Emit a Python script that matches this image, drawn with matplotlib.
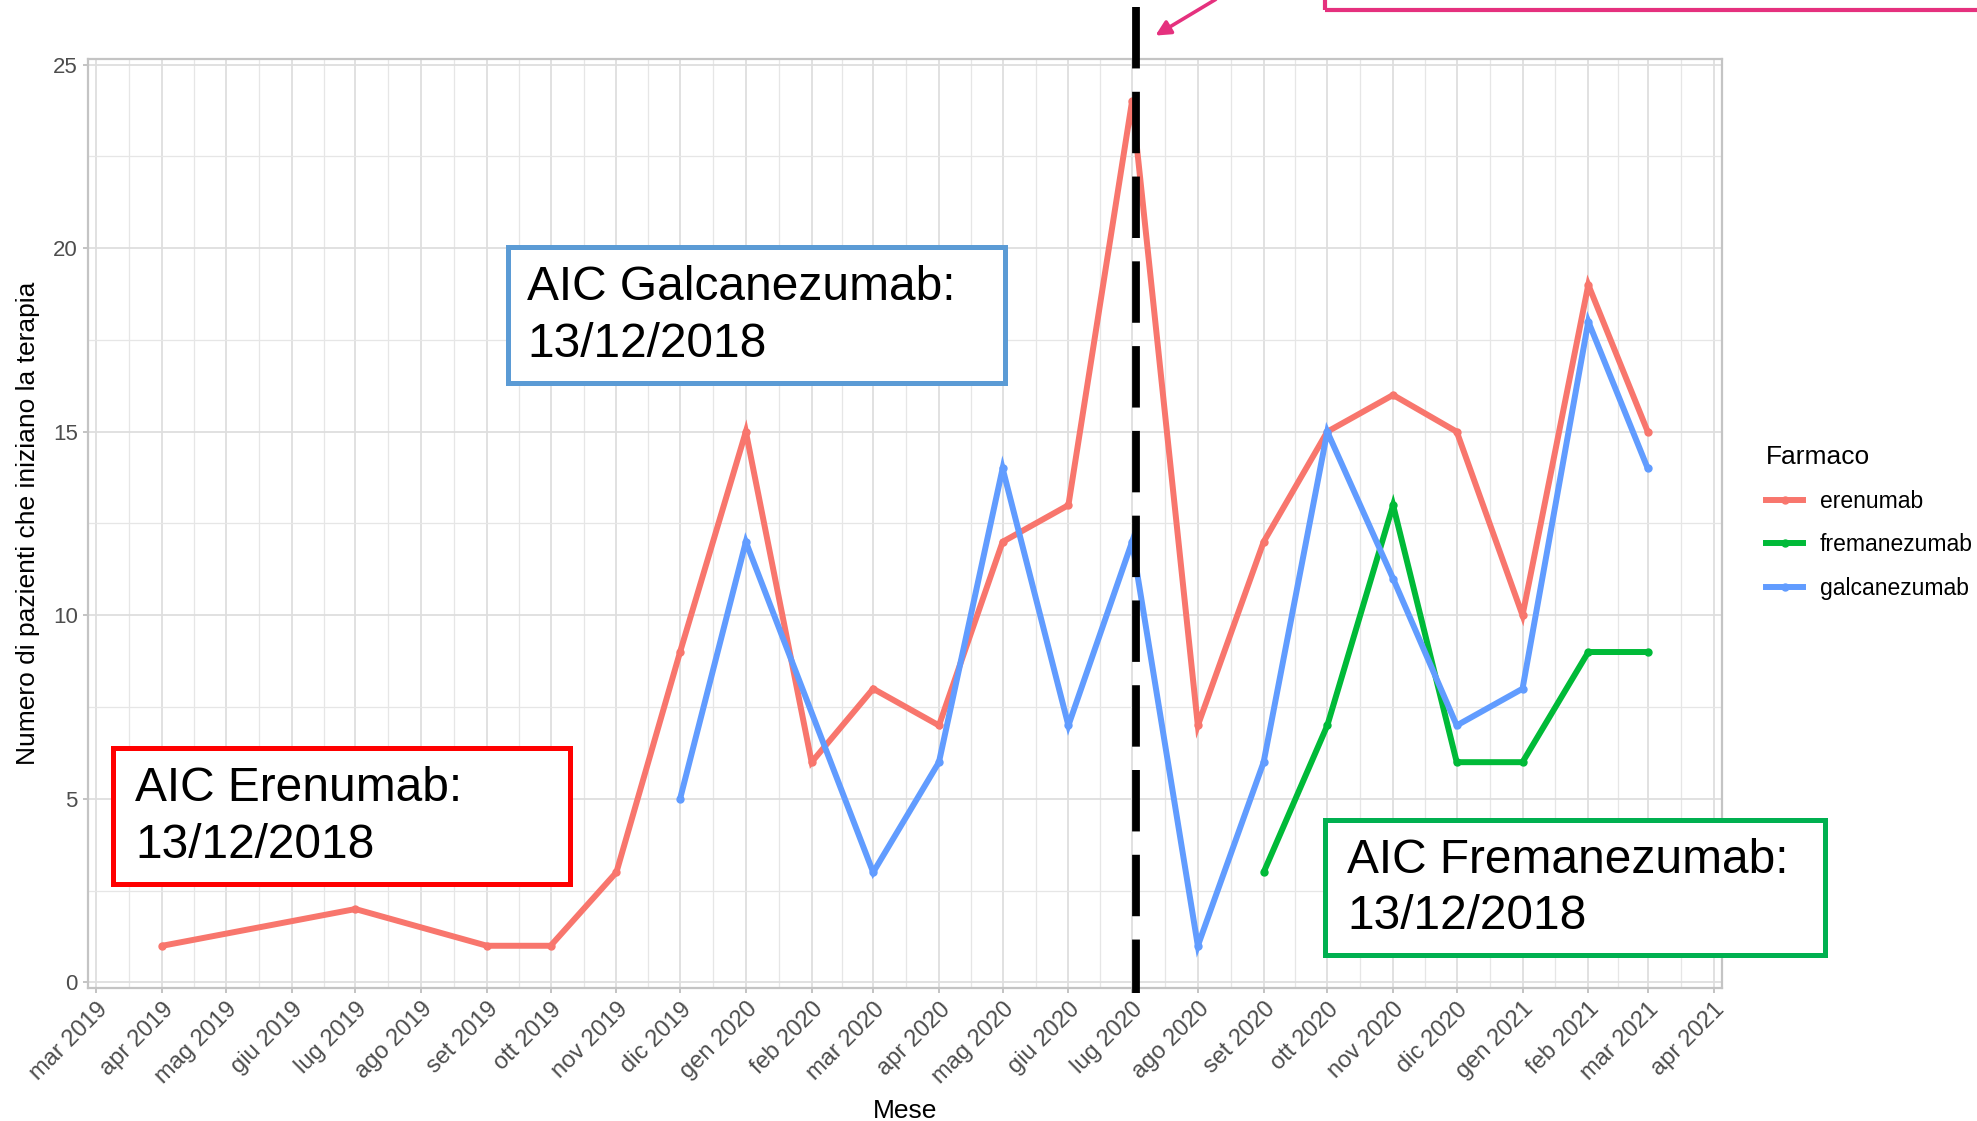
import matplotlib
matplotlib.use("Agg")
import matplotlib.pyplot as plt
import matplotlib.dates as mdates
import matplotlib.transforms as mtransforms
from matplotlib.lines import Line2D
from matplotlib.patches import Rectangle
import pandas as pd
import numpy as np

plt.rcParams['font.family'] = ['Liberation Sans', 'DejaVu Sans']

# ---------------- data ----------------
erenumab_dates = ["2019-04-01", "2019-07-01", "2019-09-01", "2019-10-01", "2019-11-01",
                  "2019-12-01", "2020-01-01", "2020-02-01", "2020-03-01", "2020-04-01",
                  "2020-05-01", "2020-06-01", "2020-07-01", "2020-08-01", "2020-09-01",
                  "2020-10-01", "2020-11-01", "2020-12-01", "2021-01-01", "2021-02-01",
                  "2021-03-01"]
erenumab_values = [1, 2, 1, 1, 3, 9, 15, 6, 8, 7, 12, 13, 24, 7, 12, 15, 16, 15, 10, 19, 15]

fremanezumab_dates = ["2020-09-01", "2020-10-01", "2020-11-01", "2020-12-01",
                      "2021-01-01", "2021-02-01", "2021-03-01"]
fremanezumab_values = [3, 7, 13, 6, 6, 9, 9]

galcanezumab_dates = ["2019-12-01", "2020-01-01", "2020-03-01", "2020-04-01", "2020-05-01",
                      "2020-06-01", "2020-07-01", "2020-08-01", "2020-09-01", "2020-10-01",
                      "2020-11-01", "2020-12-01", "2021-01-01", "2021-02-01", "2021-03-01"]
galcanezumab_values = [5, 12, 3, 6, 14, 7, 12, 1, 6, 15, 11, 7, 8, 18, 14]

series_names = ["erenumab", "fremanezumab", "galcanezumab"]
series_colors = ["#F8766D", "#00BA38", "#619CFF"]

tick_dates = ["2019-03-01", "2019-04-01", "2019-05-01", "2019-06-01", "2019-07-01",
              "2019-08-01", "2019-09-01", "2019-10-01", "2019-11-01", "2019-12-01",
              "2020-01-01", "2020-02-01", "2020-03-01", "2020-04-01", "2020-05-01",
              "2020-06-01", "2020-07-01", "2020-08-01", "2020-09-01", "2020-10-01",
              "2020-11-01", "2020-12-01", "2021-01-01", "2021-02-01", "2021-03-01",
              "2021-04-01"]
tick_labels = ["mar 2019", "apr 2019", "mag 2019", "giu 2019", "lug 2019", "ago 2019",
               "set 2019", "ott 2019", "nov 2019", "dic 2019", "gen 2020", "feb 2020",
               "mar 2020", "apr 2020", "mag 2020", "giu 2020", "lug 2020", "ago 2020",
               "set 2020", "ott 2020", "nov 2020", "dic 2020", "gen 2021", "feb 2021",
               "mar 2021", "apr 2021"]
y_ticks = [0, 5, 10, 15, 20, 25]

marker_date = "2020-07-03"   # vertical dashed reference line

annotations = [
    ("AIC Erenumab:\n13/12/2018", "#FF0000"),
    ("AIC Galcanezumab:\n13/12/2018", "#5B9BD5"),
    ("AIC Fremanezumab:\n13/12/2018", "#00B050"),
]

# ---------------- figure ----------------
W, H = 1977, 1121
fig = plt.figure(figsize=(W / 100, H / 100), dpi=100)

def fx(px):
    return px / W

def fy(py):
    return 1 - py / H

ax_l, ax_r, ax_t, ax_b = 88, 1722, 59, 988
ax = fig.add_axes([fx(ax_l), fy(ax_b), fx(ax_r - ax_l), (ax_b - ax_t) / H])

all_series = [
    (erenumab_dates, erenumab_values),
    (fremanezumab_dates, fremanezumab_values),
    (galcanezumab_dates, galcanezumab_values),
]

lw = 4.3
ms = 5.0
handles = []
for (d, v), name, col in zip(all_series, series_names, series_colors):
    x = pd.to_datetime(d)
    ax.plot(x, v, color=col, lw=lw, marker='o', ms=ms, solid_capstyle='butt',
            solid_joinstyle='miter', zorder=3)
    handles.append(Line2D([], [], color=col, lw=lw, marker='o', ms=ms))

# limits (5% expansion, like ggplot)
all_x = pd.to_datetime(sum([s[0] for s in all_series], []))
xn = mdates.date2num(all_x)
xpad = 0.05 * (xn.max() - xn.min())
ax.set_xlim(xn.min() - xpad, xn.max() + xpad)
all_y = np.array(sum([list(s[1]) for s in all_series], []))
ypad = 0.05 * (all_y.max() - all_y.min())
ax.set_ylim(all_y.min() - ypad, all_y.max() + ypad)

# ticks
tnum = mdates.date2num(pd.to_datetime(tick_dates))
ax.set_xticks(tnum)
ax.set_xticklabels(tick_labels)
ax.set_xticks((tnum[:-1] + tnum[1:]) / 2, minor=True)
ax.set_yticks(y_ticks)
ax.set_yticks([(a + b) / 2 for a, b in zip(y_ticks[:-1], y_ticks[1:])], minor=True)

for lab in ax.get_xticklabels():
    lab.set_rotation(45)
    lab.set_ha('right')
    lab.set_va('top')
    lab.set_rotation_mode('anchor')

ax.tick_params(axis='both', which='major', colors='#B3B3B3', length=3.8, width=1.1,
               labelcolor='#4D4D4D')
ax.tick_params(axis='x', which='major', labelsize=17, pad=3.5)
ax.tick_params(axis='y', which='major', labelsize=16, pad=3.5)
ax.tick_params(axis='both', which='minor', length=0)

ax.grid(which='major', color='#DEDEDE', lw=1.3, zorder=0)
ax.grid(which='minor', color='#E6E6E6', lw=0.9, zorder=0)
ax.set_axisbelow(True)
for sp in ax.spines.values():
    sp.set_color('#C4C4C4')
    sp.set_linewidth(1.6)

ax.set_xlabel("Mese", fontsize=19)
ax.set_ylabel("Numero di pazienti che iniziano la terapia", fontsize=19)
ax.xaxis.set_label_coords(0.5, -(1111 - ax_b) / (ax_b - ax_t))
ax.xaxis.label.set_va('center')
ax.yaxis.set_label_coords(-(ax_l - 28) / (ax_r - ax_l), 0.5)
ax.yaxis.label.set_va('center')

# legend
leg = ax.legend(handles, series_names, title="Farmaco", loc='upper left',
                bbox_to_anchor=(fx(1757), fy(436)), bbox_transform=fig.transFigure,
                frameon=False, fontsize=16.5, title_fontsize=19, handlelength=1.6,
                handletextpad=0.75, labelspacing=0.9, borderpad=0.4, borderaxespad=0,
                alignment='left')

# dashed vertical reference line
xm = mdates.date2num(pd.to_datetime(marker_date))
trans = mtransforms.blended_transform_factory(ax.transData, ax.transAxes)
y_top = 1 + (ax_t - 7) / (ax_b - ax_t)
y_bot = -(993 - ax_b) / (ax_b - ax_t)
ax.plot([xm, xm], [y_top, y_bot], transform=trans, color='black', lw=5.6,
        linestyle=(0, (7.9, 3.0)), dash_capstyle='butt', clip_on=False, zorder=5)

# annotation boxes
boxes = [((113, 748, 570, 884), 135), ((508, 247, 1005, 383), 527),
         ((1325, 820, 1825, 955), 1347)]
for (txt, col), ((x0, y0, x1, y1), tx) in zip(annotations, boxes):
    fig.patches.append(Rectangle((fx(x0), fy(y1)), fx(x1 - x0), (y1 - y0) / H,
                                 transform=fig.transFigure, fill=True, facecolor='white',
                                 edgecolor=col, lw=3.6, zorder=10))
    fig.text(fx(tx), fy((y0 + y1) / 2 + 1), txt, fontsize=34.5, color='black', ha='left',
             va='center', linespacing=1.33, zorder=11)

# pink box and arrow at the top
pink = '#E5317E'
fig.patches.append(Rectangle((fx(1325), fy(10)), fx(700), 60 / H, transform=fig.transFigure,
                             fill=False, edgecolor=pink, lw=3.0, zorder=10))
fig.add_artist(matplotlib.patches.FancyArrowPatch(
    (fx(1218), fy(-2)), (fx(1153), fy(37)), transform=fig.transFigure,
    arrowstyle='-|>', mutation_scale=22, color=pink, lw=2.6, zorder=10))

fig.savefig("out.png", dpi=100)
